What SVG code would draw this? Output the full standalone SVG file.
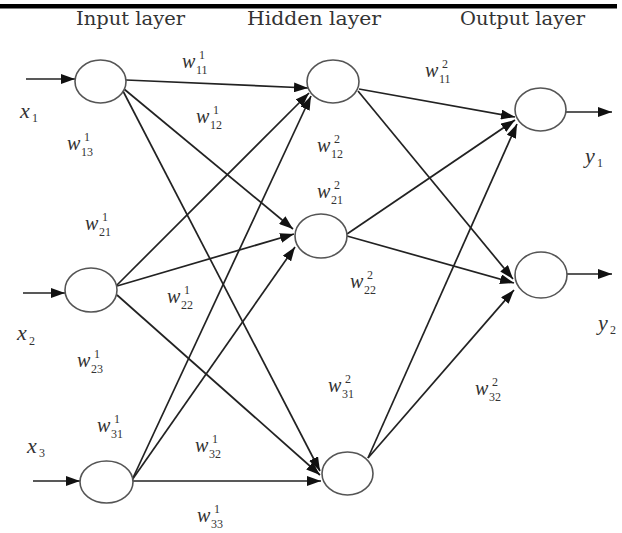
<svg xmlns="http://www.w3.org/2000/svg" width="622" height="533" viewBox="0 0 622 533">
  <style>
    .node { fill: #ffffff; stroke: #555555; stroke-width: 1.6; }
    .edge { stroke: #222222; stroke-width: 1.7; fill: none; marker-end: url(#ah); }
    .hdr { font-family: "DejaVu Serif", "Liberation Serif", serif; font-size: 18px; fill: #333333; }
    .lbl { font-family: "Liberation Serif", "Times New Roman", serif; font-style: italic; font-size: 20px; fill: #333333; }
    .xl { font-size: 22px; }
    .s { font-style: normal; font-size: 12px; }
  </style>
  <defs>
    <marker id="ah" markerUnits="userSpaceOnUse" markerWidth="14" markerHeight="10" refX="14" refY="5" orient="auto">
      <path d="M0,0 L14,5 L0,10 z" fill="#111111"/>
    </marker>
  </defs>
  <rect width="622" height="533" fill="#ffffff"/>
  <rect x="0" y="4" width="617" height="4.5" fill="#000000"/>

  <g id="headers">
    <text class="hdr" x="76" y="25" textLength="109" lengthAdjust="spacingAndGlyphs">Input layer</text>
    <text class="hdr" x="247" y="25" textLength="134" lengthAdjust="spacingAndGlyphs">Hidden layer</text>
    <text class="hdr" x="460" y="25" textLength="125" lengthAdjust="spacingAndGlyphs">Output layer</text>
  </g>

  <g id="connectors">
    <!-- inputs -->
    <line class="edge" x1="26" y1="79" x2="75" y2="79"/>
    <line class="edge" x1="23" y1="293" x2="65" y2="293"/>
    <line class="edge" x1="33" y1="481" x2="80" y2="481"/>
    <!-- input -> hidden -->
    <line class="edge" x1="126" y1="80" x2="308" y2="88"/>
    <line class="edge" x1="124" y1="89" x2="293" y2="229"/>
    <line class="edge" x1="123" y1="91" x2="320" y2="471"/>
    <line class="edge" x1="117" y1="285" x2="309" y2="93"/>
    <line class="edge" x1="117" y1="286" x2="294" y2="234"/>
    <line class="edge" x1="117" y1="295" x2="320" y2="475"/>
    <line class="edge" x1="132" y1="480" x2="311" y2="96"/>
    <line class="edge" x1="132" y1="480" x2="295" y2="247"/>
    <line class="edge" x1="133" y1="481" x2="321" y2="481"/>
    <!-- hidden -> output -->
    <line class="edge" x1="359" y1="89" x2="515" y2="117"/>
    <line class="edge" x1="358" y1="91" x2="513" y2="279"/>
    <line class="edge" x1="347" y1="234" x2="515" y2="120"/>
    <line class="edge" x1="347" y1="236" x2="514" y2="283"/>
    <line class="edge" x1="368" y1="458" x2="517" y2="124"/>
    <line class="edge" x1="368" y1="458" x2="514" y2="290"/>
    <!-- outputs -->
    <line class="edge" x1="566" y1="112" x2="612" y2="112"/>
    <line class="edge" x1="567" y1="274" x2="612" y2="274"/>
  </g>

  <g id="input1"><ellipse class="node" cx="100.5" cy="81.5" rx="25.5" ry="21.5"/></g>
  <g id="input2"><ellipse class="node" cx="91" cy="290" rx="26" ry="22"/></g>
  <g id="input3"><ellipse class="node" cx="106.5" cy="482" rx="26.5" ry="21"/></g>
  <g id="hidden1"><ellipse class="node" cx="333" cy="81.5" rx="26" ry="21.5"/></g>
  <g id="hidden2"><ellipse class="node" cx="321" cy="236" rx="26" ry="22"/></g>
  <g id="hidden3"><ellipse class="node" cx="347.5" cy="473.5" rx="25.5" ry="21.5"/></g>
  <g id="output1"><ellipse class="node" cx="540.5" cy="109.5" rx="25.5" ry="21.5"/></g>
  <g id="output2"><ellipse class="node" cx="541" cy="275" rx="26" ry="23"/></g>

  <g id="labels">
    <text class="lbl xl" x="20" y="118">x<tspan class="s" x="32" y="122">1</tspan></text>
    <text class="lbl xl" x="17" y="340">x<tspan class="s" x="29" y="345">2</tspan></text>
    <text class="lbl xl" x="27" y="453">x<tspan class="s" x="39" y="457">3</tspan></text>
    <text class="lbl xl" x="585" y="163">y<tspan class="s" x="597" y="167">1</tspan></text>
    <text class="lbl xl" x="598" y="330">y<tspan class="s" x="610" y="334">2</tspan></text>

    <text class="lbl" x="182" y="68">w<tspan class="s" x="196" y="74">11</tspan><tspan class="s" x="199" y="59">1</tspan></text>
    <text class="lbl" x="196" y="123">w<tspan class="s" x="210" y="129">12</tspan><tspan class="s" x="213" y="114">1</tspan></text>
    <text class="lbl" x="67" y="150">w<tspan class="s" x="81" y="156">13</tspan><tspan class="s" x="84" y="141">1</tspan></text>
    <text class="lbl" x="85" y="230">w<tspan class="s" x="99" y="236">21</tspan><tspan class="s" x="102" y="221">1</tspan></text>
    <text class="lbl" x="167" y="303">w<tspan class="s" x="181" y="309">22</tspan><tspan class="s" x="184" y="294">1</tspan></text>
    <text class="lbl" x="77" y="367">w<tspan class="s" x="91" y="373">23</tspan><tspan class="s" x="94" y="358">1</tspan></text>
    <text class="lbl" x="97" y="432">w<tspan class="s" x="111" y="438">31</tspan><tspan class="s" x="114" y="423">1</tspan></text>
    <text class="lbl" x="195" y="452">w<tspan class="s" x="209" y="458">32</tspan><tspan class="s" x="212" y="443">1</tspan></text>
    <text class="lbl" x="197" y="522">w<tspan class="s" x="211" y="528">33</tspan><tspan class="s" x="214" y="513">1</tspan></text>

    <text class="lbl" x="425" y="77">w<tspan class="s" x="439" y="83">11</tspan><tspan class="s" x="442" y="68">2</tspan></text>
    <text class="lbl" x="317" y="152">w<tspan class="s" x="331" y="158">12</tspan><tspan class="s" x="334" y="143">2</tspan></text>
    <text class="lbl" x="317" y="198">w<tspan class="s" x="331" y="204">21</tspan><tspan class="s" x="334" y="189">2</tspan></text>
    <text class="lbl" x="350" y="288">w<tspan class="s" x="364" y="294">22</tspan><tspan class="s" x="367" y="279">2</tspan></text>
    <text class="lbl" x="328" y="392">w<tspan class="s" x="342" y="398">31</tspan><tspan class="s" x="345" y="383">2</tspan></text>
    <text class="lbl" x="475" y="395">w<tspan class="s" x="489" y="401">32</tspan><tspan class="s" x="492" y="386">2</tspan></text>
  </g>
</svg>
